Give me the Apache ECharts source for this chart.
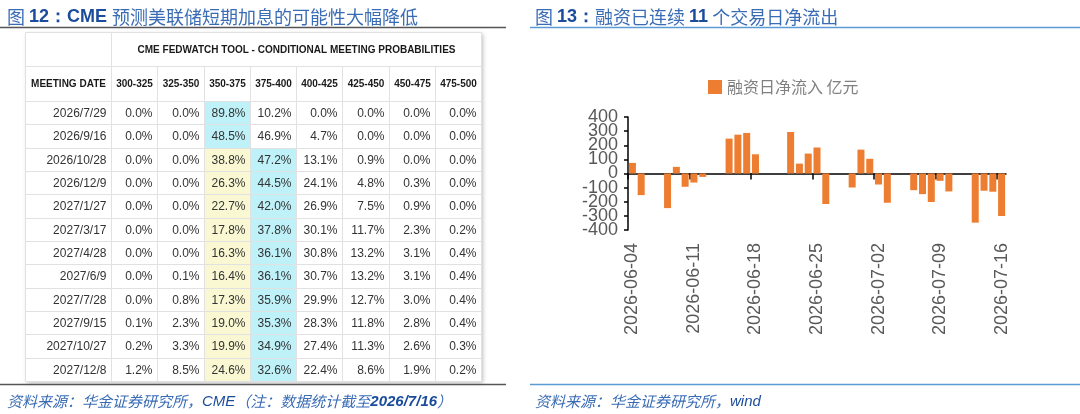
<!DOCTYPE html>
<html>
<head>
<meta charset="utf-8">
<script src="https://cdn.jsdelivr.net/npm/echarts@6/dist/echarts.min.js"></script>
<style>
  html, body { margin: 0; padding: 0; background: #fff; }
  #main { width: 1080px; height: 414px; }
</style>
</head>
<body>
<div id="main"></div>
<script>
// 图12：CME FedWatch 条件概率表
const rateRanges = ['300-325', '325-350', '350-375', '375-400', '400-425', '425-450', '450-475', '475-500'];
const currentRange = '350-375';
const meetingDates = ['2026/7/29', '2026/9/16', '2026/10/28', '2026/12/9', '2027/1/27', '2027/3/17',
  '2027/4/28', '2027/6/9', '2027/7/28', '2027/9/15', '2027/10/27', '2027/12/8'];
const probRows = [
  [0.0, 0.0, 89.8, 10.2, 0.0, 0.0, 0.0, 0.0],
  [0.0, 0.0, 48.5, 46.9, 4.7, 0.0, 0.0, 0.0],
  [0.0, 0.0, 38.8, 47.2, 13.1, 0.9, 0.0, 0.0],
  [0.0, 0.0, 26.3, 44.5, 24.1, 4.8, 0.3, 0.0],
  [0.0, 0.0, 22.7, 42.0, 26.9, 7.5, 0.9, 0.0],
  [0.0, 0.0, 17.8, 37.8, 30.1, 11.7, 2.3, 0.2],
  [0.0, 0.0, 16.3, 36.1, 30.8, 13.2, 3.1, 0.4],
  [0.0, 0.1, 16.4, 36.1, 30.7, 13.2, 3.1, 0.4],
  [0.0, 0.8, 17.3, 35.9, 29.9, 12.7, 3.0, 0.4],
  [0.1, 2.3, 19.0, 35.3, 28.3, 11.8, 2.8, 0.4],
  [0.2, 3.3, 19.9, 34.9, 27.4, 11.3, 2.6, 0.3],
  [1.2, 8.5, 24.6, 32.6, 22.4, 8.6, 1.9, 0.2]
];
const tableTitle = 'CME FEDWATCH TOOL - CONDITIONAL MEETING PROBABILITIES';
const dateHeader = 'MEETING DATE';

// 图13：融资日净流入（亿元）
const flowDates = ['2026-06-04', '2026-06-05', '2026-06-08', '2026-06-09', '2026-06-10', '2026-06-11',
  '2026-06-12', '2026-06-15', '2026-06-16', '2026-06-17', '2026-06-18', '2026-06-22', '2026-06-23',
  '2026-06-24', '2026-06-25', '2026-06-26', '2026-06-29', '2026-06-30', '2026-07-01', '2026-07-02',
  '2026-07-03', '2026-07-06', '2026-07-07', '2026-07-08', '2026-07-09', '2026-07-10', '2026-07-13',
  '2026-07-14', '2026-07-15', '2026-07-16'];
const flowValues = [75, -153, -245, 47, -94, -64, -24, 247, 275, 287, 136, 294, 70, 141, 184, -216,
  -99, 169, 104, -78, -207, -118, -146, -202, -52, -127, -348, -122, -129, -301];
const flowTickDates = ['2026-06-04', '2026-06-11', '2026-06-18', '2026-06-25', '2026-07-02', '2026-07-09', '2026-07-16'];
const flowYTicks = [-400, -300, -200, -100, 0, 100, 200, 300, 400];
const flowName = '融资日净流入 亿元';

const CN = '"Noto Sans CJK SC", sans-serif';
const EN = '"Liberation Sans", Arial, sans-serif';
const DAY = 24 * 3600 * 1000;

function toTs(s) {
  const p = s.split('-').map(Number);
  return Date.UTC(p[0], p[1] - 1, p[2]);
}
const day0 = toTs(flowTickDates[0]);
// days since first tick date
function dayOf(s) { return Math.round((toTs(s) - day0) / DAY); }
function fmtDay(n) {
  const d = new Date(day0 + Math.floor(n) * DAY);
  const m = d.getUTCMonth() + 1, dd = d.getUTCDate();
  return d.getUTCFullYear() + '-' + (m < 10 ? '0' : '') + m + '-' + (dd < 10 ? '0' : '') + dd;
}

// table layout
const T = { left: 25, top: 32, w0: 86, w1: 370, h1: 34, h2: 35, hb: 280 };

const grids = [], xAxes = [], yAxes = [], series = [];

function cellBlock(box, cols, rows, cells) {
  const gi = grids.length;
  grids.push(Object.assign({ outerBoundsMode: 'none' }, box));
  xAxes.push({ type: 'category', gridIndex: gi, data: cols, show: false });
  yAxes.push({ type: 'category', gridIndex: gi, data: rows, inverse: true, show: false });
  series.push({
    type: 'custom',
    xAxisIndex: gi,
    yAxisIndex: gi,
    silent: true,
    animation: false,
    data: cells.map(c => [c.c, c.r]),
    renderItem: function (params, api) {
      const cell = cells[params.dataIndex];
      const p = api.coord([api.value(0), api.value(1)]);
      const s = api.size([1, 1]);
      const x0 = Math.round(p[0] - s[0] / 2) + 0.5, x1 = Math.round(p[0] + s[0] / 2) + 0.5;
      const y0 = Math.round(p[1] - s[1] / 2) + 0.5, y1 = Math.round(p[1] + s[1] / 2) + 0.5;
      const kids = [{
        type: 'rect',
        shape: { x: x0, y: y0, width: x1 - x0, height: y1 - y0 },
        style: { fill: cell.fill || '#fff', stroke: '#e1e1e1', lineWidth: 1 }
      }];
      if (cell.text) {
        kids.push({
          type: 'text',
          style: {
            text: cell.text,
            x: cell.align === 'right' ? x1 - 5 : (x0 + x1) / 2,
            y: (y0 + y1) / 2 + 0.5,
            align: cell.align || 'center',
            verticalAlign: 'middle',
            font: (cell.bold ? 'bold 10px ' : '12px ') + EN,
            fill: cell.bold ? '#1a1a1a' : '#333'
          }
        });
      }
      return { type: 'group', children: kids };
    }
  });
}

// header row 1
cellBlock({ left: T.left, top: T.top, width: T.w0, height: T.h1 }, [''], [''], [{ c: 0, r: 0, text: '' }]);
cellBlock({ left: T.left + T.w0, top: T.top, width: T.w1, height: T.h1 }, [''], [''],
  [{ c: 0, r: 0, text: tableTitle, bold: true }]);
// header row 2
cellBlock({ left: T.left, top: T.top + T.h1, width: T.w0, height: T.h2 }, [''], [''],
  [{ c: 0, r: 0, text: dateHeader, bold: true }]);
cellBlock({ left: T.left + T.w0, top: T.top + T.h1, width: T.w1, height: T.h2 }, rateRanges, [''],
  rateRanges.map((r, i) => ({ c: i, r: 0, text: r, bold: true })));
// body
cellBlock({ left: T.left, top: T.top + T.h1 + T.h2, width: T.w0, height: T.hb }, [''], meetingDates,
  meetingDates.map((d, i) => ({ c: 0, r: i, text: d, align: 'right' })));
const probCells = [];
probRows.forEach((row, r) => {
  const mx = Math.max.apply(null, row);
  row.forEach((v, c) => {
    let fill = '#fff';
    if (v === mx) fill = '#bff1f8';
    else if (rateRanges[c] === currentRange) fill = '#f9f8d3';
    probCells.push({ c: c, r: r, text: v.toFixed(1) + '%', align: 'right', fill: fill });
  });
});
cellBlock({ left: T.left + T.w0, top: T.top + T.h1 + T.h2, width: T.w1, height: T.hb }, rateRanges, meetingDates, probCells);

// bar chart on a day-number axis
const barGrid = grids.length;
grids.push({ left: 628, top: 117, width: 378, height: 113, outerBoundsMode: 'none' });
const tickDays = flowTickDates.map(dayOf);
const xMax = tickDays[tickDays.length - 1] + 1;
xAxes.push({
  type: 'value', gridIndex: barGrid, min: 0, max: xMax,
  axisLine: { show: true, onZero: true, lineStyle: { color: '#000', width: 1.5 } },
  axisTick: { show: true, customValues: tickDays, length: 6, lineStyle: { color: '#000', width: 1.5 } },
  axisLabel: { show: false },
  splitLine: { show: false }
});
xAxes.push({
  type: 'value', gridIndex: barGrid, min: 0, max: xMax, position: 'bottom',
  axisLine: { show: false, onZero: false },
  axisTick: { show: false },
  splitLine: { show: false },
  axisLabel: {
    customValues: tickDays.map(t => t + 0.5),
    rotate: 90, margin: 13,
    fontFamily: EN, fontSize: 18, color: '#595959',
    formatter: v => fmtDay(v)
  }
});
// labels are packed tighter than their height, so split them over two overlaid axes
const yLabelStyle = { margin: 10, fontFamily: EN, fontSize: 18, color: '#595959' };
const yMin = flowYTicks[0], yMax = flowYTicks[flowYTicks.length - 1];
yAxes.push({
  type: 'value', gridIndex: barGrid, min: yMin, max: yMax, interval: 100,
  axisLine: { show: true, onZero: false, lineStyle: { color: '#000', width: 1.5 } },
  axisTick: { show: true, customValues: flowYTicks, length: 4, lineStyle: { color: '#000', width: 1.5 } },
  axisLabel: Object.assign({ customValues: flowYTicks.filter((v, i) => i % 2 === 0) }, yLabelStyle),
  splitLine: { show: false }
});
yAxes.push({
  type: 'value', gridIndex: barGrid, min: yMin, max: yMax, interval: 100, position: 'left',
  axisLine: { show: false, onZero: false },
  axisTick: { show: false },
  axisLabel: Object.assign({ customValues: flowYTicks.filter((v, i) => i % 2 === 1) }, yLabelStyle),
  splitLine: { show: false }
});
series.push({
  name: flowName,
  type: 'bar',
  xAxisIndex: xAxes.length - 2,
  yAxisIndex: yAxes.length - 2,
  barWidth: 7,
  itemStyle: { color: '#ed7d31' },
  animation: false,
  data: flowDates.map((d, i) => [dayOf(d) + 0.5, flowValues[i]])
});

const lightBlue = '#3a6cb5', darkBlue = '#1a4c9b';
const titleRich = {
  a: { fontFamily: CN, fontSize: 18, fontWeight: 'normal', color: lightBlue },
  b: { fontFamily: EN, fontSize: 18, fontWeight: 'bold', color: darkBlue },
  c: { fontFamily: CN, fontSize: 18, fontWeight: 'normal', color: lightBlue }
};
const footRich = {
  c: { fontFamily: CN, fontSize: 15, fontStyle: 'italic', fontWeight: 'normal', color: lightBlue },
  b: { fontFamily: EN, fontSize: 15, fontStyle: 'italic', fontWeight: 'normal', color: darkBlue },
  bb: { fontFamily: EN, fontSize: 15, fontStyle: 'italic', fontWeight: 'bold', color: darkBlue }
};
const plain = (rich) => ({ fontWeight: 'normal', rich: rich });

const chart = echarts.init(document.getElementById('main'));
chart.setOption({
  backgroundColor: '#fff',
  animation: false,
  title: [
    { left: 2, top: 3, text: '{a|图 }{b|12：CME }{c|预测美联储短期加息的可能性大幅降低}', textStyle: plain(titleRich) },
    { left: 530, top: 3, text: '{a|图 }{b|13：}{c|融资已连续 }{b|11}{c| 个交易日净流出}', textStyle: plain(titleRich) },
    { left: 2, top: 389, text: '{c|资料来源：华金证券研究所，}{b|CME}{c|（注：数据统计截至}{bb|2026/7/16}{c|）}', textStyle: plain(footRich) },
    { left: 530, top: 389, text: '{c|资料来源：华金证券研究所，}{b|wind}', textStyle: plain(footRich) }
  ],
  legend: {
    left: 703, top: 74, icon: 'rect', itemWidth: 14, itemHeight: 14,
    data: [flowName],
    textStyle: { fontFamily: CN, fontSize: 16, color: '#808080' }
  },
  graphic: [
    { type: 'line', shape: { x1: 0, y1: 27.5, x2: 506, y2: 27.5 }, style: { stroke: '#555', lineWidth: 1.5 } },
    { type: 'line', shape: { x1: 0, y1: 384.5, x2: 506, y2: 384.5 }, style: { stroke: '#555', lineWidth: 1.5 } },
    { type: 'line', shape: { x1: 530, y1: 27.5, x2: 1080, y2: 27.5 }, style: { stroke: '#5b9bd5', lineWidth: 1.5 } },
    { type: 'line', shape: { x1: 530, y1: 384.5, x2: 1080, y2: 384.5 }, style: { stroke: '#5b9bd5', lineWidth: 1.5 } },
    {
      type: 'rect', z: -10,
      shape: { x: T.left, y: T.top, width: T.w0 + T.w1, height: T.h1 + T.h2 + T.hb },
      style: { fill: '#fff', shadowBlur: 4, shadowOffsetX: 2, shadowOffsetY: 2, shadowColor: 'rgba(0,0,0,0.25)' }
    }
  ],
  grid: grids,
  xAxis: xAxes,
  yAxis: yAxes,
  series: series
});
</script>
</body>
</html>
